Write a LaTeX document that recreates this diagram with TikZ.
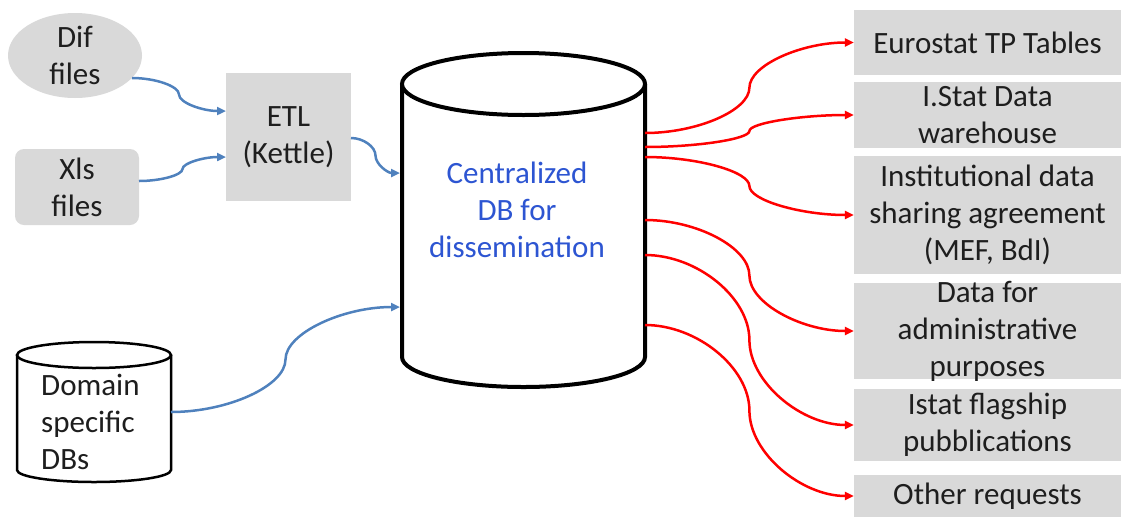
\documentclass[tikz,border=0pt]{standalone}
\usepackage{fontspec}
\setmainfont{Carlito}
\usetikzlibrary{arrows.meta,calc,shapes.geometric}
\definecolor{boxgray}{RGB}{217,217,217}
\definecolor{linkblue}{RGB}{79,129,189}
\definecolor{txtblue}{RGB}{45,85,210}
\definecolor{txtdark}{RGB}{30,30,30}
\tikzset{
  cc3/.style={to path={let \p1=(\tikztostart), \p2=(\tikztotarget) in
    .. controls ({0.75*\x1+0.25*\x2},\y1) and ({0.5*\x1+0.5*\x2},{0.75*\y1+0.25*\y2})
    .. ({0.5*\x1+0.5*\x2},{0.5*\y1+0.5*\y2})
    .. controls ({0.5*\x1+0.5*\x2},{0.25*\y1+0.75*\y2}) and ({0.25*\x1+0.75*\x2},\y2)
    .. (\tikztotarget)}},
  bluelink/.style={draw=linkblue, line width=2.5pt, -{Triangle[length=9pt,width=8pt]}, cc3},
  redlink/.style={draw=red, line width=2.5pt, -{Triangle[length=9pt,width=8pt]}, cc3},
  txt/.style={font=\fontsize{31}{37}\selectfont, align=center, text=txtdark, inner sep=0pt},
  graybox/.style={fill=boxgray, inner sep=0pt},
  outbox/.style={graybox, minimum width=267pt},
}
\begin{document}
\begin{tikzpicture}[x=1pt,y=-1pt]
\useasboundingbox (0,0) rectangle (1123,517);

% inputs
\node[graybox, ellipse, minimum width=134pt, minimum height=85pt,
      label={[txt]center:{Dif\\files}}] (dif) at (75,55.5) {};
\node[graybox, rounded corners=9pt, minimum width=124pt, minimum height=76pt] (xls) at (77,187) {};
\node[txt] at (xls) {Xls\\files};
\node[graybox, minimum width=125pt, minimum height=128pt] (etl) at (288.5,137) {};
\node[txt] at (etl) {ETL\\(Kettle)};

% domain specific DBs cylinder
\draw[line width=2.5pt, fill=white] (17,355) -- (17,470)
  arc[start angle=180, end angle=360, x radius=77pt, y radius=12pt] -- (171,355);
\draw[line width=2.5pt, fill=white] (94,355) ellipse[x radius=77pt, y radius=13pt];
\node[txt, align=left, anchor=west] (dom) at (41,422) {Domain\\specific\\DBs};

% central cylinder
\draw[line width=4pt, fill=white] (402,84) -- (402,357)
  arc[start angle=180, end angle=360, x radius=121.5pt, y radius=30pt] -- (645,84);
\draw[line width=4pt, fill=white] (523.5,84) ellipse[x radius=121.5pt, y radius=31pt];
\node[txt, text=txtblue] (central) at (517,210) {Centralized\\DB for\\dissemination};

% outputs
\node[outbox, minimum height=65pt, label={[txt]center:{Eurostat TP Tables}}] (o1) at (987.5,42.5) {};
\node[outbox, minimum height=66pt, label={[txt]center:{I.Stat Data\\warehouse}}] (o2) at (987.5,115) {};
\node[outbox, minimum height=118pt, label={[txt]center:{Institutional data\\sharing agreement\\(MEF, BdI)}}] (o3) at (987.5,215) {};
\node[outbox, minimum height=96pt, label={[txt]center:{Data for\\administrative\\purposes}}] (o4) at (987.5,331) {};
\node[outbox, minimum height=72pt, label={[txt]center:{Istat flagship\\pubblications}}] (o5) at (987.5,425) {};
\node[outbox, minimum height=42pt, label={[txt]center:{Other requests}}] (o6) at (987.5,496) {};

% connector end points
\coordinate (difout) at (132,78);
\coordinate (etlin1) at (226,111);
\coordinate (xlsout) at (139,181);
\coordinate (etlin2) at (226,157);
\coordinate (etlout) at (351,138);
\coordinate (cin1) at (400,173);
\coordinate (domout) at (171,412);
\coordinate (cin2) at (400,307);
\coordinate (c1) at (645,133);
\coordinate (c2) at (645,147);
\coordinate (c3) at (645,157);
\coordinate (c4) at (645,220);
\coordinate (c5) at (645,255);
\coordinate (c6) at (645,325);

% blue connectors
\draw[bluelink] (difout) to (etlin1);
\draw[bluelink] (xlsout) to (etlin2);
\draw[bluelink] (etlout) to (cin1);
\draw[bluelink] (domout) to (cin2);

% red connectors
\draw[redlink] (c1) to (o1.west);
\draw[redlink] (c2) to (o2.west);
\draw[redlink] (c3) to (o3.west);
\draw[redlink] (c4) to (o4.west);
\draw[redlink] (c5) to (o5.west);
\draw[redlink] (c6) to (o6.west);
\end{tikzpicture}
\end{document}
